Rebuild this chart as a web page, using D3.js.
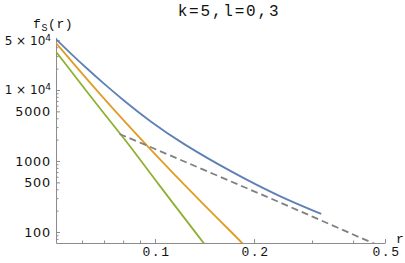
<!DOCTYPE html>
<html>
<head>
<meta charset="utf-8">
<script src="https://cdn.jsdelivr.net/npm/d3@7"></script>
<style>
  body { margin: 0; background: #fff; }
  svg { display: block; }
</style>
</head>
<body>
<div id="chart"></div>
<script>
// values (log-log plot)
const title = "k=5,l=0,3"

const blueR = [0.05, 0.055, 0.0625, 0.07, 0.08, 0.0966, 0.12, 0.17, 0.24, 0.32]
const blueV = [52000, 33800, 19450, 12200, 7200, 3600, 1800, 705, 311, 180]

const orangeR = [0.05, 0.068, 0.0966, 0.137, 0.1855, 0.19]
const orangeV = [45900, 8610, 1462, 272, 68, 59]

const greenR = [0.05, 0.07, 0.083, 0.1, 0.145]
const greenV = [34600, 4600, 1750, 540, 58]

const dashR = [0.078, 0.1, 0.15, 0.224, 0.3, 0.4, 0.5]
const dashV = [2400, 1480, 660, 299, 166, 92, 59]

const xMajor = [0.1, 0.2, 0.5]
const xMinor = [0.06, 0.07, 0.08, 0.09, 0.3, 0.4]
const yMajor = [100, 500, 1000, 5000, 10000, 50000]
const yMinor = [80, 90, 200, 300, 400, 600, 700, 800, 900, 2000, 3000, 4000, 6000, 7000, 8000, 9000, 20000, 30000, 40000]

const width = 405
const height = 263

const svg = d3.select('#chart')
  .append('svg')
  .attr('xmlns', 'http://www.w3.org/2000/svg')
  .attr('width', width)
  .attr('height', height)

const x = d3.scaleLog().domain([0.05, 0.5]).range([56, 385])
const y = d3.scaleLog().domain([70, 55000]).range([243, 37.4])

const mono = '"Liberation Mono", "DejaVu Sans Mono", monospace'
const sans = '"DejaVu Sans", sans-serif'

svg.append('clipPath').attr('id', 'plot')
  .append('rect').attr('x', 56).attr('y', 30).attr('width', 340).attr('height', 213)

// minor ticks
svg.append('g')
  .attr('transform', 'translate(0,243)')
  .call(d3.axisBottom(x).tickValues(xMinor).tickSizeInner(-2.5).tickSizeOuter(0).tickFormat(''))
  .call(g => g.select('.domain').remove())
svg.append('g')
  .attr('transform', 'translate(56,0)')
  .call(d3.axisLeft(y).tickValues(yMinor).tickSizeInner(-2.5).tickSizeOuter(0).tickFormat(''))
  .call(g => g.select('.domain').remove())

// major x axis
const gx = svg.append('g')
  .attr('transform', 'translate(0,243)')
  .call(d3.axisBottom(x).tickValues(xMajor).tickSizeInner(-4).tickSizeOuter(0).tickPadding(4).tickFormat(d3.format('.1f')))
gx.selectAll('.tick text')
  .attr('font-family', mono).attr('font-size', 13).attr('letter-spacing', 1.6).attr('fill', '#111')
  .attr('dx', 1)

// major y axis
const gy = svg.append('g')
  .attr('transform', 'translate(56,0)')
  .call(d3.axisLeft(y).tickValues(yMajor).tickSizeInner(-4).tickSizeOuter(0).tickPadding(5).tickFormat(d3.format('d')))
gy.selectAll('.tick text')
  .attr('font-family', sans).attr('font-size', 12.8).attr('letter-spacing', 0.8).attr('fill', '#111')
  .each(function (d) {
    if (d >= 10000) {
      const t = d3.select(this)
      t.text('').attr('font-size', 12).attr('letter-spacing', 0)
      t.append('tspan').text(`${d / 10000} × 10`)
      t.append('tspan').attr('dy', '-0.45em').attr('font-size', 9).text('4')
    }
  })

svg.selectAll('.domain, .tick line').attr('stroke', '#8c8c8c')

// curves
const smooth = d3.line()
  .x(d => x(d[0]))
  .y(d => y(d[1]))
  .curve(d3.curveBasis)

const series = [
  { r: blueR, v: blueV, color: '#5e81b5', dash: null },
  { r: orangeR, v: orangeV, color: '#e19c24', dash: null },
  { r: greenR, v: greenV, color: '#8fb032', dash: null },
  { r: dashR, v: dashV, color: '#808080', dash: '7,4' }
]

const plot = svg.append('g').attr('clip-path', 'url(#plot)')
series.forEach(s => {
  plot.append('path')
    .datum(d3.zip(s.r, s.v))
    .attr('d', smooth)
    .attr('fill', 'none')
    .attr('stroke', s.color)
    .attr('stroke-width', 1.8)
    .attr('stroke-dasharray', s.dash)
})

// labels
svg.append('text')
  .attr('x', 229).attr('y', 16)
  .attr('text-anchor', 'middle')
  .attr('font-family', mono).attr('font-size', 16).attr('letter-spacing', 1.8)
  .attr('fill', '#111')
  .text(title)

const ylab = svg.append('text')
  .attr('x', 33).attr('y', 28)
  .attr('font-family', mono).attr('font-size', 13).attr('letter-spacing', 0.6)
  .attr('fill', '#111')
ylab.append('tspan').text('f')
ylab.append('tspan').attr('dy', 2.5).attr('font-size', 10).text('S')
ylab.append('tspan').attr('dy', -2.5).text('(r)')

svg.append('text')
  .attr('x', 396).attr('y', 243)
  .attr('font-family', mono).attr('font-size', 13)
  .attr('fill', '#111')
  .text('r')
</script>
</body>
</html>
